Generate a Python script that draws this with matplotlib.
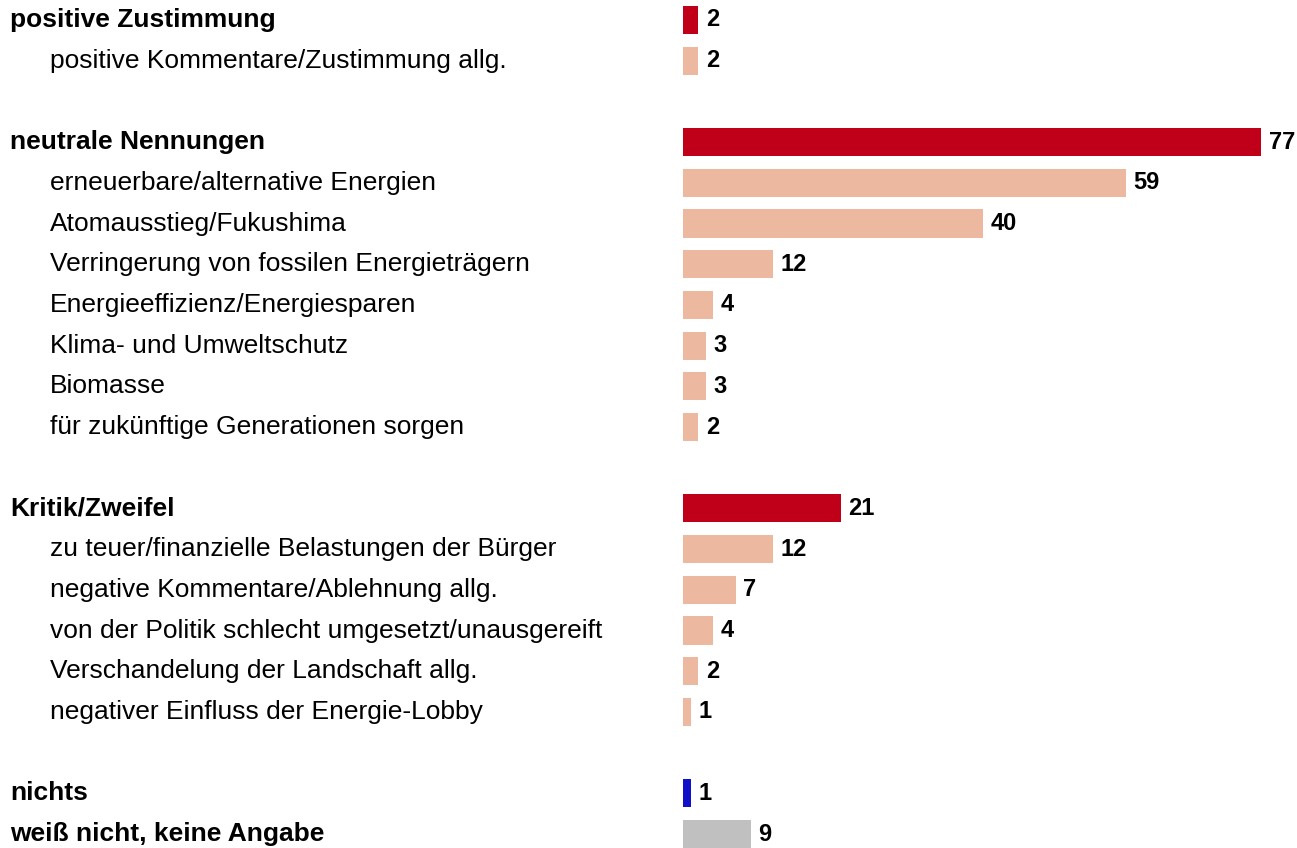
import matplotlib
matplotlib.use("Agg")
import matplotlib.pyplot as plt
import matplotlib.transforms as mtransforms

plt.rcParams['font.family'] = ['Liberation Sans', 'DejaVu Sans']

# rows top to bottom; None = blank spacer row
labels = [
    "positive Zustimmung",
    "positive Kommentare/Zustimmung allg.",
    None,
    "neutrale Nennungen",
    "erneuerbare/alternative Energien",
    "Atomausstieg/Fukushima",
    "Verringerung von fossilen Energieträgern",
    "Energieeffizienz/Energiesparen",
    "Klima- und Umweltschutz",
    "Biomasse",
    "für zukünftige Generationen sorgen",
    None,
    "Kritik/Zweifel",
    "zu teuer/finanzielle Belastungen der Bürger",
    "negative Kommentare/Ablehnung allg.",
    "von der Politik schlecht umgesetzt/unausgereift",
    "Verschandelung der Landschaft allg.",
    "negativer Einfluss der Energie-Lobby",
    None,
    "nichts",
    "weiß nicht, keine Angabe",
]
values = [2, 2, None, 77, 59, 40, 12, 4, 3, 3, 2, None,
          21, 12, 7, 4, 2, 1, None, 1, 9]
# kind: h = heading, s = sub item, n = nichts, w = weiß nicht
kinds = ["h", "s", None, "h", "s", "s", "s", "s", "s", "s", "s", None,
         "h", "s", "s", "s", "s", "s", None, "n", "w"]

colors = {"h": "#C00018", "s": "#EDB8A0", "n": "#1010C8", "w": "#C0C0C0"}

W, H = 1297, 848
fig = plt.figure(figsize=(W / 100, H / 100), dpi=100)
x0 = 683
px_per_unit = (1261 - 683) / 77
ax = fig.add_axes([x0 / W, 0, (W - x0) / W, 1])
ax.set_xlim(0, (W - x0) / px_per_unit)
pitch = (834 - 20) / 20
ax.set_ylim((H - 20) / pitch, -20 / pitch)
ax.axis("off")

trans = mtransforms.blended_transform_factory(fig.transFigure, ax.transData)
fs = 19

for i, (lab, val, k) in enumerate(zip(labels, values, kinds)):
    if lab is None:
        continue
    ax.barh(i, val, height=0.69, color=colors[k], linewidth=0)
    ax.annotate(str(val), (val, i), xytext=(5.5, 0), textcoords="offset points",
                ha="left", va="center", fontsize=17, fontweight="bold",
                color="black")
    if k == "s":
        ax.text(50 / W, i, lab, transform=trans, ha="left", va="center",
                fontsize=fs, color="black")
    else:
        ax.text(10 / W, i, lab, transform=trans, ha="left", va="center",
                fontsize=fs, fontweight="bold", color="black")

fig.savefig("out.png", dpi=100)
